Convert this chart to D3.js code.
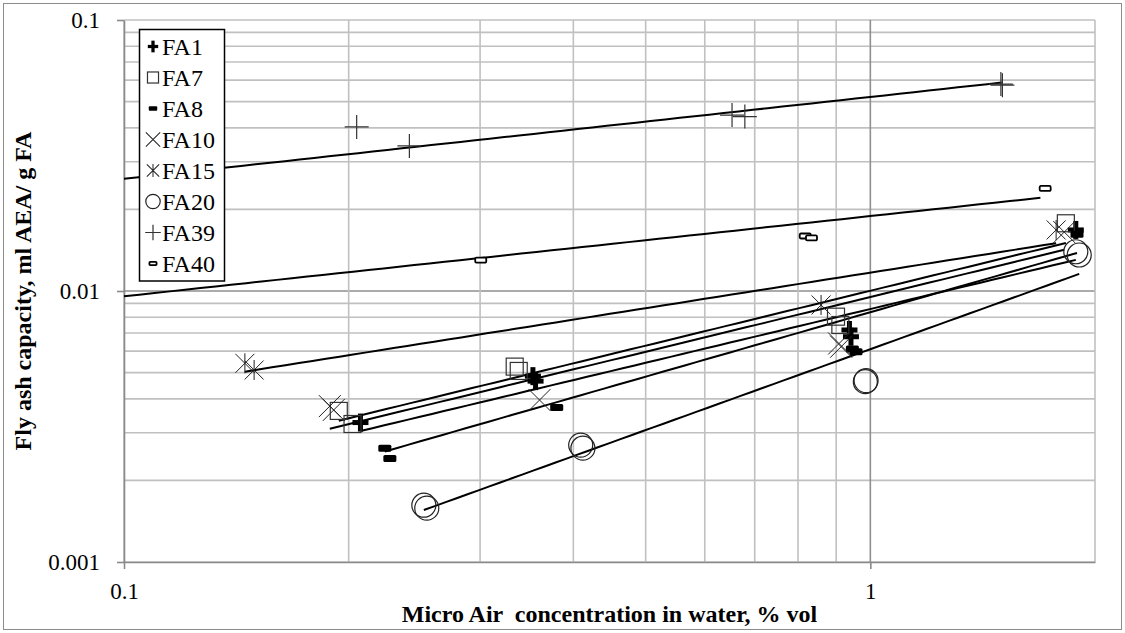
<!DOCTYPE html>
<html>
<head>
<meta charset="utf-8">
<script src="https://cdn.jsdelivr.net/npm/d3@7/dist/d3.min.js"></script>
<style>
  html, body { margin: 0; padding: 0; background: #fff; }
  svg { display: block; }
  svg text { font-family: "Liberation Serif", "Times New Roman", serif; }
</style>
</head>
<body>
<svg id="chart" width="1125" height="633"></svg>
<script>
// Fly ash samples (legend order)
const seriesNames = ["FA1", "FA7", "FA8", "FA10", "FA15", "FA20", "FA39", "FA40"];

// Measured points: Micro Air concentration (% vol) vs. fly ash capacity (ml AEA / g FA)
const fa1X  = [0.2074, 0.3531, 0.3560, 0.9376, 0.9420, 1.885];
const fa1Y  = [0.00327, 0.00485, 0.00465, 0.00718, 0.00678, 0.0168];
const fa7X  = [0.1940, 0.2024, 0.3338, 0.3380, 0.8995, 0.9117, 1.828];
const fa7Y  = [0.00361, 0.00323, 0.00526, 0.00507, 0.00804, 0.00749, 0.01778];
const fa8X  = [0.2236, 0.2271, 0.3800, 0.9461, 0.9568, 1.892];
const fa8Y  = [0.00263, 0.00241, 0.00372, 0.00611, 0.00597, 0.0162];
const fa10X = [0.1887, 0.1910, 0.3604, 0.9080, 0.9139, 1.819];
const fa10Y = [0.00376, 0.00364, 0.00396, 0.00640, 0.00623, 0.0165];
const fa15X = [0.1452, 0.1494, 0.859, 1.774];
const fa15Y = [0.00541, 0.00511, 0.00888, 0.0168];
const fa20X = [0.2522, 0.2545, 0.4092, 0.4120, 0.9847, 0.9870, 1.885, 1.905];
const fa20Y = [0.00162, 0.00158, 0.00270, 0.00263, 0.00463, 0.00467, 0.01396, 0.01358];
const fa39X = [0.205, 0.2412, 0.6527, 0.679, 1.496, 1.503];
const fa39Y = [0.0403, 0.0343, 0.0446, 0.0440, 0.0580, 0.0575];
const fa40X = [0.3006, 0.818, 0.834, 1.715];
const fa40Y = [0.0130, 0.01596, 0.0157, 0.0239];

// Power trendlines y = a * x^b and the x span each one is drawn over
const trendA    = [0.00858, 0.01002, 0.008351, 0.0095, 0.01169, 0.0061, 0.052, 0.0189];
const trendB    = [0.659, 0.673, 0.790, 0.671, 0.436, 0.992, 0.302, 0.296];
const trendFrom = [0.2074, 0.194, 0.2236, 0.1887, 0.1452, 0.2522, 0.1, 0.1];
const trendTo   = [1.885, 1.828, 1.892, 1.819, 1.774, 1.905, 1.50, 1.69];

// Axis ticks
const xTickValues = [0.1, 1];
const xTickLabels = ["0.1", "1"];
const yTickValues = [0.001, 0.01, 0.1];
const yTickLabels = ["0.001", "0.01", "0.1"];

const xTitle = "Micro Air  concentration in water, % vol";
const yTitle = "Fly ash capacity, ml AEA/ g FA";

const seriesX = [fa1X, fa7X, fa8X, fa10X, fa15X, fa20X, fa39X, fa40X];
const seriesY = [fa1Y, fa7Y, fa8Y, fa10Y, fa15Y, fa20Y, fa39Y, fa40Y];

const FONT = '"Liberation Serif", "Times New Roman", serif';
const svg = d3.select("#chart");
const W = 1125, H = 633;
const plot = { left: 124, right: 1095, top: 20, bottom: 562 };

const x = d3.scaleLog().domain([0.1, 2]).range([plot.left, plot.right]);
const y = d3.scaleLog().domain([0.001, 0.1]).range([plot.bottom, plot.top]);

// Outer chart frame
svg.append("rect")
  .attr("x", 3.5).attr("y", 3.5).attr("width", W - 7).attr("height", H - 7)
  .attr("fill", "#fff").attr("stroke", "#8c8c8c").attr("stroke-width", 1);

// Gridlines
const grid = svg.append("g");
const yGrid = [];
[0.001, 0.01].forEach(d => { for (let k = 1; k <= 9; k++) yGrid.push(+(d * k).toPrecision(3)); });
yGrid.push(0.1);
const xGrid = [];
for (let k = 1; k <= 10; k++) xGrid.push(+(0.1 * k).toFixed(1));
xGrid.push(2);

grid.selectAll("line.h").data(yGrid).join("line")
  .attr("x1", plot.left).attr("x2", plot.right)
  .attr("y1", d => y(d)).attr("y2", d => y(d))
  .attr("stroke", d => d === 0.01 ? "#8f8f8f" : "#c0c0c0")
  .attr("stroke-width", 1.6);
grid.selectAll("line.v").data(xGrid).join("line")
  .attr("y1", plot.top).attr("y2", plot.bottom)
  .attr("x1", d => x(d)).attr("x2", d => x(d))
  .attr("stroke", d => d === 1 ? "#8f8f8f" : "#c0c0c0")
  .attr("stroke-width", 1.6);

// Axes
const yAxis = d3.axisLeft(y).tickValues(yTickValues)
  .tickFormat((d, i) => yTickLabels[i]).tickSize(7).tickSizeOuter(0).tickPadding(17);
const xAxis = d3.axisBottom(x).tickValues(xTickValues)
  .tickFormat((d, i) => xTickLabels[i]).tickSize(7).tickSizeOuter(0).tickPadding(14);

const gy = svg.append("g").attr("transform", `translate(${plot.left},0)`).call(yAxis);
const gx = svg.append("g").attr("transform", `translate(0,${plot.bottom})`).call(xAxis);
[gx, gy].forEach(g => {
  g.attr("font-family", FONT).attr("font-size", 23);
  g.select(".domain").attr("stroke", "#8a8a8a").attr("stroke-width", 1.6);
  g.selectAll(".tick line").attr("stroke", "#8a8a8a").attr("stroke-width", 1.6);
  g.selectAll(".tick text").attr("fill", "#000").attr("font-family", FONT).attr("font-size", 23);
});

// Axis titles
svg.append("text")
  .attr("x", (plot.left + plot.right) / 2).attr("y", 622)
  .attr("text-anchor", "middle").attr("font-family", FONT)
  .attr("font-weight", "bold").attr("font-size", 24)
  .style("white-space", "pre").text(xTitle);
svg.append("text")
  .attr("transform", `translate(31,${(plot.top + plot.bottom) / 2}) rotate(-90)`)
  .attr("text-anchor", "middle").attr("font-family", FONT)
  .attr("font-weight", "bold").attr("font-size", 24)
  .text(yTitle);

// Trendlines
const trendG = svg.append("g");
seriesNames.forEach((name, i) => {
  const xs = d3.range(0, 61).map(k => trendFrom[i] * Math.pow(trendTo[i] / trendFrom[i], k / 60));
  const pts = xs.map(v => [v, trendA[i] * Math.pow(v, trendB[i])]);
  trendG.append("path")
    .attr("d", d3.line().x(p => x(p[0])).y(p => y(p[1]))(pts))
    .attr("fill", "none").attr("stroke", "#000").attr("stroke-width", 2);
});

// Marker drawing, one style per sample; s scales the symbol
function drawMarker(g, idx, cx, cy, s) {
  const m = g.append("g").attr("transform", `translate(${cx},${cy}) scale(${s})`);
  switch (idx) {
    case 0: // thick plus
      m.append("rect").attr("x", -8).attr("y", -2.5).attr("width", 16).attr("height", 5).attr("fill", "#000");
      m.append("rect").attr("x", -2.5).attr("y", -9).attr("width", 5).attr("height", 18).attr("fill", "#000");
      break;
    case 1: // open square
      m.append("rect").attr("x", -8.5).attr("y", -8.5).attr("width", 17).attr("height", 17)
        .attr("fill", "none").attr("stroke", "#333").attr("stroke-width", 1.2 / s);
      break;
    case 2: // thick dash
      m.append("rect").attr("x", -6.5).attr("y", -3.5).attr("width", 13).attr("height", 7)
        .attr("rx", 1.5).attr("fill", "#000");
      break;
    case 3: // x
      m.append("path").attr("d", "M-11,-11L11,11M-11,11L11,-11")
        .attr("stroke", "#222").attr("stroke-width", 1 / s).attr("fill", "none");
      break;
    case 4: // asterisk
      m.append("path").attr("d", "M-9.5,-9.5L9.5,9.5M-9.5,9.5L9.5,-9.5M0,-10L0,10")
        .attr("stroke", "#222").attr("stroke-width", 1 / s).attr("fill", "none");
      break;
    case 5: // open circle
      m.append("circle").attr("r", 12)
        .attr("fill", "none").attr("stroke", "#222").attr("stroke-width", 1.2 / s);
      break;
    case 6: // thin plus
      m.append("path").attr("d", "M-12,0L12,0M0,-12L0,12")
        .attr("stroke", "#333").attr("stroke-width", 1.2 / s).attr("fill", "none");
      break;
    case 7: // small open bar
      m.append("rect").attr("x", -5.5).attr("y", -2.5).attr("width", 11).attr("height", 5)
        .attr("rx", 1.2).attr("fill", "#fff").attr("stroke", "#000").attr("stroke-width", 1.8 / s);
      break;
  }
}

const markG = svg.append("g");
seriesNames.forEach((name, i) => {
  seriesX[i].forEach((xv, j) => drawMarker(markG, i, x(xv), y(seriesY[i][j]), 1));
});

// Legend
const legend = svg.append("g");
const lg = { x: 139, y: 29, w: 85, rowH: 31, first: 46.5 };
legend.append("rect")
  .attr("x", lg.x + 0.5).attr("y", lg.y + 0.5)
  .attr("width", lg.w).attr("height", lg.first - lg.y + lg.rowH * (seriesNames.length - 1) + 17)
  .attr("fill", "#fff").attr("stroke", "#000").attr("stroke-width", 1.5);
seriesNames.forEach((name, i) => {
  const cy = lg.first + i * lg.rowH;
  drawMarker(legend, i, lg.x + 14, cy, i === 5 ? 0.6 : 0.65);
  legend.append("text")
    .attr("x", lg.x + 23).attr("y", cy).attr("dy", "0.35em")
    .attr("font-family", FONT).attr("font-size", 24).attr("fill", "#000").text(name);
});
</script>
</body>
</html>
